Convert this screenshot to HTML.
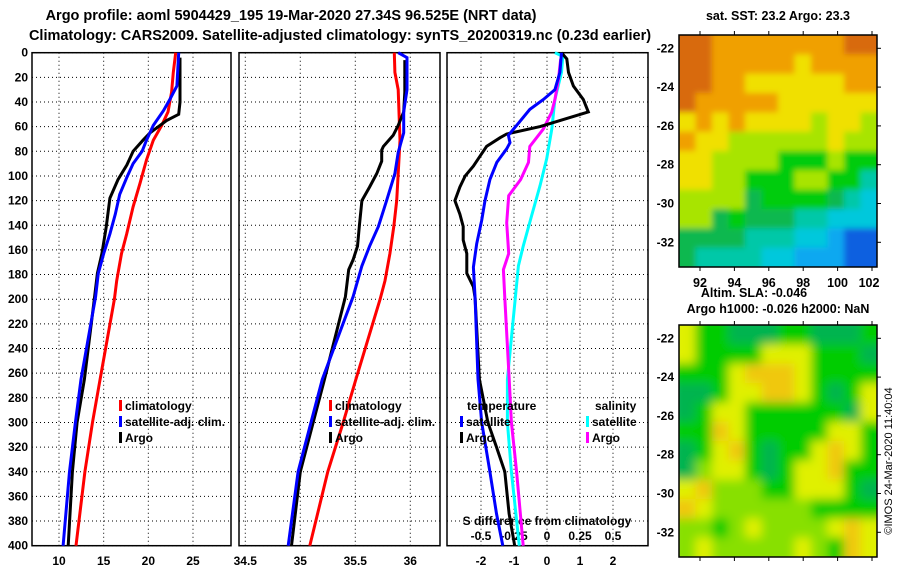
<!DOCTYPE html>
<html><head><meta charset="utf-8"><style>
body{margin:0;background:#fff;}
svg{display:block;font-family:"Liberation Sans",Arial,sans-serif;font-weight:bold;}
</style></head><body>
<svg id="c" width="900" height="580" viewBox="0 0 900 580">
<text x="291" y="20" font-size="14.5" text-anchor="middle">Argo profile: aoml 5904429_195 19-Mar-2020 27.34S 96.525E (NRT data)</text>
<text x="340" y="40" font-size="14.5" text-anchor="middle">Climatology: CARS2009. Satellite-adjusted climatology: synTS_20200319.nc (0.23d earlier)</text>
<g id="plots"></g>
<g id="maps"></g>
<text x="778" y="20" font-size="12.5" text-anchor="middle">sat. SST: 23.2 Argo: 23.3</text>
<text x="754" y="297" font-size="12.5" text-anchor="middle">Altim. SLA: -0.046</text>
<text x="778" y="313" font-size="12.5" text-anchor="middle">Argo h1000: -0.026 h2000: NaN</text>
<text x="0" y="0" font-size="11" font-weight="normal" text-anchor="middle" transform="translate(892,461) rotate(-90)">©IMOS 24-Mar-2020 11:40:04</text>
</svg>
<script>
// ---- data ----
const depthTicks=[0,20,40,60,80,100,120,140,160,180,200,220,240,260,280,300,320,340,360,380,400];
const tTicks=[10,15,20,25];
const sTicks=[34.5,35,35.5,36];
const dTicks=[-2,-1,0,1,2];
const dsTicks=[-0.5,-0.25,0,0.25,0.5];
const dsTickLabels=["-0.5","-0.25","0","0.25","0.5"];

const tClimD=[0,16,32,48,59,71,87,106,125,147,163,185,200,265,300,340,400];
const tClimV=[23.06,22.8,22.6,22.2,21.5,20.56,19.8,19.07,18.3,17.58,17.0,16.46,16.2,14.6,13.75,12.9,11.9];
const tSatD=[0,27,38,47,59,71,80,90,101,115,131,147,163,179,198,265,300,340,400];
const tSatV=[23.4,23.2,22.4,21.7,20.56,19.8,19.3,18.3,17.6,16.8,16.3,15.7,15.0,14.4,14.1,12.46,11.84,11.17,10.46];
const tArgoD=[4,40,50,55,65,71,80,91,103,118,141,163,179,200,265,300,340,400];
const tArgoV=[23.55,23.55,23.4,22.05,20.2,19.4,18.3,17.6,16.6,15.7,15.3,14.8,14.3,13.95,12.84,12.03,11.5,11.03];

const sClimD=[0,16,30,71,98,120,141,163,185,200,265,300,340,400];
const sClimV=[35.855,35.86,35.89,35.906,35.89,35.876,35.85,35.815,35.77,35.725,35.505,35.39,35.25,35.086];
const sSatD=[0,4,30,48,65,81,98,120,141,157,173,198,265,300,340,400];
const sSatV=[35.89,35.97,35.97,35.94,35.94,35.89,35.86,35.785,35.71,35.63,35.56,35.48,35.2,35.097,34.98,34.89];
const sArgoD=[6,32,48,59,67,76,79,88,98,109,120,141,157,168,176,198,265,300,340,400];
const sArgoV=[35.95,35.95,35.94,35.89,35.845,35.755,35.74,35.74,35.695,35.63,35.56,35.536,35.52,35.48,35.44,35.41,35.22,35.117,35.0,34.92];

const dtSatD=[0,16,30,38,46,59,67,73,78,89,103,120,136,155,174,199,265,300,340,374,400];
const dtSatV=[0.44,0.39,0.24,-0.11,-0.52,-0.92,-1.17,-1.12,-1.22,-1.52,-1.73,-1.88,-1.98,-2.13,-2.23,-2.18,-2.09,-1.98,-1.73,-1.53,-1.34];
const dtArgoD=[0,5,16,27,38,48,60,66,69,76,84,92,100,109,120,131,141,152,163,179,190,199,265,300,320,340,374,400];
const dtArgoV=[0.44,0.6,0.65,0.8,1.1,1.25,-0.21,-1.22,-1.42,-1.83,-2.03,-2.23,-2.48,-2.64,-2.79,-2.64,-2.54,-2.54,-2.43,-2.43,-2.23,-2.18,-2.05,-1.79,-1.53,-1.28,-1.15,-0.98];
const dsSatD=[0,3,16,38,62,86,108,132,157,173,199,265,300,340,400];
const dsSatV=[0.06,0.12,0.11,0.06,0.036,-0.002,-0.053,-0.116,-0.18,-0.217,-0.24,-0.3,-0.3,-0.27,-0.21];
const dsArgoD=[5,22,38,48,62,76,89,103,116,138,163,176,199,265,300,340,400];
const dsArgoV=[0.104,0.086,0.06,0.036,-0.028,-0.13,-0.14,-0.2,-0.29,-0.305,-0.29,-0.33,-0.32,-0.286,-0.27,-0.23,-0.18];

const sstRows=["OOooooooooOO","OOoooooyoooo","OOooyyyyyyoo","Ooooooyyyyyy","yoyoyyyylyyl","oyyllllllyll","yyllllggglgg","yyllgggllggt","llllGggggGtc","llGgGGGttccc","GGGGtttccbBB","GttttccbbbBB"];
const slaRows=["yggGGGggGGGg","yggggyyygggG","gggyYYYygggg","GGgyyYYygGgy","GgyyggggggGy","ggYygggggyyg","GgyYgGggyYyg","GlyygGgyyYgg","yYlllggyyygG","Yyllllllgggg","llglyllllyYy","lylllllylgYy"];

// ---- helpers ----
const NS="http://www.w3.org/2000/svg";
const root=document.getElementById('plots');
function mk(tag,attrs,parent){const e=document.createElementNS(NS,tag);for(const k in attrs)e.setAttribute(k,attrs[k]);(parent||root).appendChild(e);return e;}
const yD=d=>52.7+d*1.2325;
const xT=v=>59+(v-10)*8.933;
const xS=v=>300.3+(v-35)*110;
const xDT=v=>547+v*33;
const xDS=v=>547+v*132;
const panels=[{x0:32,x1:231,name:'temperature'},{x0:239,x1:440,name:'salinity'},{x0:447,x1:648,name:'difference'}];

panels.forEach((p,i)=>{
  const g=mk('g',{});
  
  
  depthTicks.forEach(d=>{
    const l=mk('line',{x1:p.x0,x2:p.x1,y1:yD(d),y2:yD(d),stroke:'#000','stroke-width':1,'stroke-dasharray':'1,3'},g);
    
    
  });
  const ticks=i==0?tTicks.map(xT):i==1?sTicks.map(xS):dTicks.map(xDT);
  ticks.forEach(x=>{
    if(x>p.x0+2&&x<p.x1-2){
      const l=mk('line',{x1:x,x2:x,y1:yD(0),y2:yD(400),stroke:'#000','stroke-width':1,'stroke-dasharray':'1,3'},g);
      
      
    }
  });
  const fr=mk('rect',{x:p.x0,y:yD(0),width:p.x1-p.x0,height:yD(400)-yD(0),fill:'none',stroke:'#000','stroke-width':1.5},g);
  
  
});
depthTicks.forEach(d=>{
  const t=mk('text',{x:28,y:yD(d)+4,'font-size':12,'text-anchor':'end'});
  t.textContent=d;
  
  
});
function xlabels(vals,fx,labels,y,name){
  vals.forEach((v,i)=>{
    const t=mk('text',{x:fx(v),y:y,'font-size':12,'text-anchor':'middle'});
    t.textContent=labels?labels[i]:v;
    
    
  });
}
xlabels(tTicks,xT,null,565,'temperature-tick-label');
xlabels(sTicks,xS,null,565,'salinity-tick-label');
xlabels(dTicks,xDT,null,565,'temperature-diff-tick-label');
xlabels(dsTicks,xDS,dsTickLabels,540,'salinity-diff-tick-label');
const sdt=mk('text',{x:547,y:525,'font-size':12,'text-anchor':'middle'});
sdt.textContent='S difference from climatology';



function series(D,V,fx,color,name,x0,x1){
  const pts=D.map((d,i)=>Math.max(x0,Math.min(x1,fx(V[i]))).toFixed(1)+','+yD(d).toFixed(1)).join(' ');
  const pl=mk('polyline',{points:pts,fill:'none',stroke:color,'stroke-width':3,'stroke-linejoin':'miter'});
  
  
}
series(tClimD,tClimV,xT,'#ff0000','temperature-climatology-line',33,230);
series(tArgoD,tArgoV,xT,'#000000','temperature-argo-line',33,230);
series(tSatD,tSatV,xT,'#0000ff','temperature-satellite-line',33,230);
series(sClimD,sClimV,xS,'#ff0000','salinity-climatology-line',240,439);
series(sArgoD,sArgoV,xS,'#000000','salinity-argo-line',240,439);
series(sSatD,sSatV,xS,'#0000ff','salinity-satellite-line',240,439);
series(dsSatD,dsSatV,xDS,'#00ffff','salinity-diff-satellite-line',448,647);
series(dsArgoD,dsArgoV,xDS,'#ff00ff','salinity-diff-argo-line',448,647);
series(dtArgoD,dtArgoV,xDT,'#000000','temperature-diff-argo-line',448,647);
series(dtSatD,dtSatV,xDT,'#0000ff','temperature-diff-satellite-line',448,647);

function legend(x,y,color,label,name){
  const r=mk('rect',{x:x,y:y-10,width:3,height:11,fill:color});
  
  
  const t=mk('text',{x:x+6,y:y,'font-size':12});
  t.textContent=label;
  
  
}
legend(119,410,'#ff0000','climatology','legend-t-climatology');
legend(119,426,'#0000ff','satellite-adj. clim.','legend-t-satellite');
legend(119,442,'#000000','Argo','legend-t-argo');
legend(329,410,'#ff0000','climatology','legend-s-climatology');
legend(329,426,'#0000ff','satellite-adj. clim.','legend-s-satellite');
legend(329,442,'#000000','Argo','legend-s-argo');
legend(460,426,'#0000ff','satellite','legend-dt-satellite');
legend(460,442,'#000000','Argo','legend-dt-argo');
legend(586,426,'#00ffff','satellite','legend-ds-satellite');
legend(586,442,'#ff00ff','Argo','legend-ds-argo');
const lt1=mk('text',{x:467,y:410,'font-size':12});lt1.textContent='temperature';


const lt2=mk('text',{x:595,y:410,'font-size':12});lt2.textContent='salinity';



// ---- maps ----
const mroot=document.getElementById('maps');
const sstPal={O:'#d86a08',o:'#f0a000',y:'#f0e000',l:'#a8e400',g:'#00cc10',G:'#08b850',t:'#00c8a8',c:'#00c8dc',b:'#10a8f0',B:'#0860e0'};
const slaPal={y:'#e0f000',Y:'#f0c810',l:'#88e000',g:'#00cc00',G:'#00b450'};
const mx0=679,mx1=877;
const defs=mk('defs',{},mroot);
const f=mk('filter',{id:'bl',x:'-5%',y:'-5%',width:'110%',height:'110%'},defs);
mk('feGaussianBlur',{stdDeviation:5},f);
const f1=mk('filter',{id:'bl1',x:'-5%',y:'-5%',width:'110%',height:'110%'},defs);
mk('feGaussianBlur',{stdDeviation:3},f1);
const cp=mk('clipPath',{id:'cp2'},defs);
mk('rect',{x:mx0,y:325,width:mx1-mx0,height:232},cp);
const cp1=mk('clipPath',{id:'cp1'},defs);
mk('rect',{x:mx0,y:35,width:mx1-mx0,height:232},cp1);
function drawMap(rows,pal,y0,name,blur){
  const g=mk('g',{'clip-path':blur?'url(#cp2)':'url(#cp1)'},mroot);
  const inner=mk('g',{filter:blur?'url(#bl)':'url(#bl1)'},g);
  
  
  const h=232/rows.length;
  rows.forEach((r,ri)=>{
    const n=r.length,w=(mx1-mx0)/n;
    for(let ci=0;ci<n;ci++){
      const e=8;
      const cell=mk('rect',{x:mx0+ci*w-(ci==0?e:0),y:y0+ri*h-(ri==0?e:0),width:w+1+(ci==0||ci==n-1?e:0),height:h+1+(ri==0||ri==rows.length-1?e:0),fill:pal[r[ci]]||'#00cc00'},inner);
      
      
    }
  });
  const fr=mk('rect',{x:mx0,y:y0,width:mx1-mx0,height:232,fill:'none',stroke:'#000','stroke-width':1.5},mroot);
  
  
  [-22,-24,-26,-28,-30,-32].forEach(lat=>{
    const y=y0+13.3+(-22-lat)*19.4;
    const t=mk('text',{x:674,y:y+4,'font-size':12,'text-anchor':'end'},mroot);
    t.textContent=lat;
    
    
    mk('line',{x1:mx1,x2:mx1+4,y1:y,y2:y,stroke:'#000'},mroot);
  });
  [92,94,96,98,100,102].forEach(lon=>{
    const x=700+(lon-92)*17.2;
    mk('line',{x1:x,x2:x,y1:y0,y2:y0-4,stroke:'#000'},mroot);
    mk('line',{x1:x,x2:x,y1:y0+232,y2:y0+236,stroke:'#000'},mroot);
  });
}
drawMap(sstRows,sstPal,35,'sst-map',false);
drawMap(slaRows,slaPal,325,'sla-map',true);
[92,94,96,98,100,102].forEach(lon=>{
  const t=mk('text',{x:700+(lon-92)*17.2-(lon==102?3:0),y:287,'font-size':12.5,'text-anchor':'middle'},mroot);
  t.textContent=lon;
  
  
});
</script>
</body></html>
